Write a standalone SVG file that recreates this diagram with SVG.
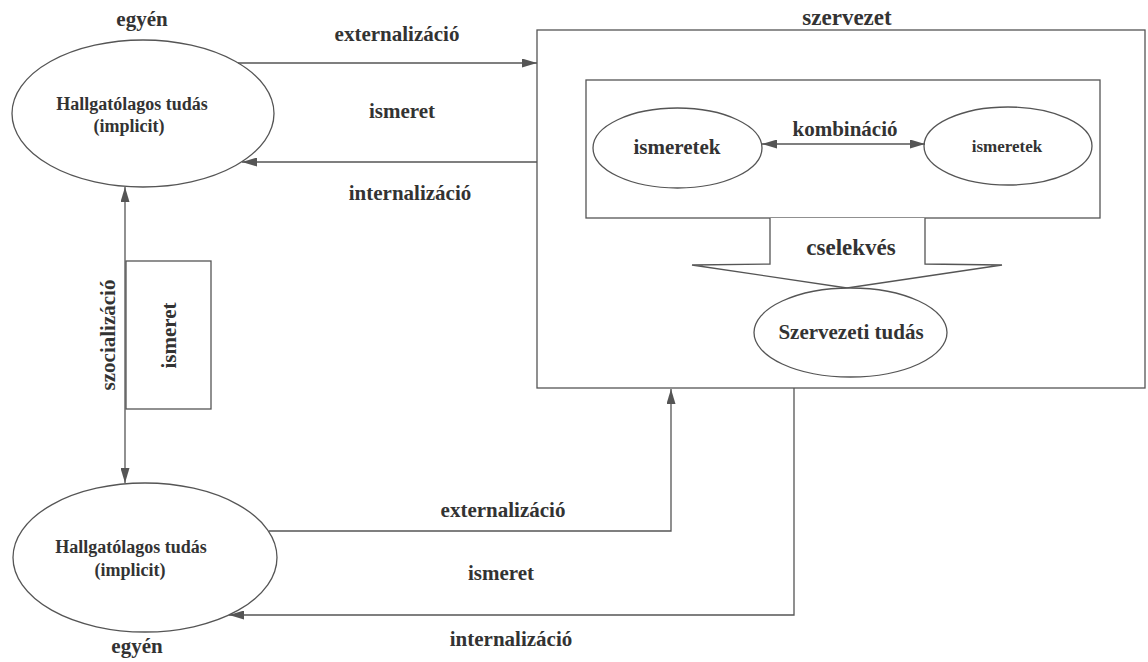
<svg xmlns="http://www.w3.org/2000/svg" width="1148" height="662" viewBox="0 0 1148 662">
<style>
.t{font-family:"Liberation Serif","DejaVu Serif","Times New Roman",serif;font-weight:bold;fill:#333;text-anchor:middle}
.s{fill:#fff;stroke:#555;stroke-width:1.3}
.c{fill:none;stroke:#555;stroke-width:1.3}
</style>
<defs>
<marker id="ah" viewBox="0 0 15 9" refX="15" refY="4.5" markerWidth="15" markerHeight="9" markerUnits="userSpaceOnUse" orient="auto-start-reverse">
<path d="M0,0 L15,4.5 L0,9 z" fill="#555"/>
</marker>
</defs>
<rect width="1148" height="662" fill="#fff"/>

<g id="szervezet">
<rect class="s" x="537" y="30" width="608" height="358"/>
<text class="t" font-family="Liberation Serif, serif" x="847" y="25" font-size="23">szervezet</text>
</g>
<g id="kombinacio-box">
<rect class="s" x="586" y="80" width="514" height="138"/>
</g>
<g id="ismeretek1">
<ellipse class="s" cx="677.5" cy="148" rx="84.5" ry="40"/>
<text class="t" font-family="Liberation Serif, serif" x="677" y="154" font-size="21">ismeretek</text>
</g>
<g id="ismeretek2">
<ellipse class="s" cx="1008" cy="146" rx="84" ry="39"/>
<text class="t" font-family="Liberation Serif, serif" x="1007" y="152" font-size="17">ismeretek</text>
</g>
<g id="cselekves">
<path class="s" d="M770,218 L770,264 L692,265 L847,288 L1002,265 L925,264 L925,218"/>
<text class="t" font-family="Liberation Serif, serif" x="851" y="255" font-size="23">cselekvés</text>
</g>
<g id="szervezeti-tudas">
<ellipse class="s" cx="850.5" cy="332.5" rx="96.5" ry="44.5"/>
<text class="t" font-family="Liberation Serif, serif" x="851" y="339" font-size="21">Szervezeti tudás</text>
</g>

<g id="egyen1">
<ellipse class="s" cx="143" cy="113.5" rx="131" ry="73.5"/>
<text class="t" font-family="Liberation Serif, serif" x="132" y="110" font-size="18">Hallgatólagos tudás</text>
<text class="t" font-family="Liberation Serif, serif" x="129" y="132" font-size="18">(implicit)</text>
<text class="t" font-family="Liberation Serif, serif" x="142" y="26" font-size="21">egyén</text>
</g>
<g id="egyen2">
<ellipse class="s" cx="145" cy="557.5" rx="132" ry="74.5"/>
<text class="t" font-family="Liberation Serif, serif" x="131" y="553" font-size="18">Hallgatólagos tudás</text>
<text class="t" font-family="Liberation Serif, serif" x="130" y="576" font-size="18">(implicit)</text>
<text class="t" font-family="Liberation Serif, serif" x="137" y="653" font-size="21">egyén</text>
</g>
<g id="ismeret-box">
<rect class="s" x="126" y="261" width="85" height="148"/>
<text class="t" font-family="Liberation Serif, serif" font-size="21" transform="translate(176,335.5) rotate(-90)" x="0" y="0">ismeret</text>
</g>

<g id="connectors">
<path class="c" d="M238,63 H537" marker-end="url(#ah)"/>
<path class="c" d="M537,162 H242" marker-end="url(#ah)"/>
<path class="c" d="M125,483 V187" marker-start="url(#ah)" marker-end="url(#ah)"/>
<path class="c" d="M269,531 H671 V389" marker-end="url(#ah)"/>
<path class="c" d="M794,388 V615 H229" marker-end="url(#ah)"/>
<path class="c" d="M762,144 H925" marker-start="url(#ah)" marker-end="url(#ah)"/>
<text class="t" font-family="Liberation Serif, serif" x="397" y="41" font-size="21">externalizáció</text>
<text class="t" font-family="Liberation Serif, serif" x="402" y="118" font-size="21">ismeret</text>
<text class="t" font-family="Liberation Serif, serif" x="410" y="200" font-size="21">internalizáció</text>
<text class="t" font-family="Liberation Serif, serif" x="845" y="136" font-size="21">kombináció</text>
<text class="t" font-family="Liberation Serif, serif" font-size="21" transform="translate(115,335) rotate(-90)" x="0" y="0">szocializáció</text>
<text class="t" font-family="Liberation Serif, serif" x="503" y="517" font-size="21">externalizáció</text>
<text class="t" font-family="Liberation Serif, serif" x="501" y="580" font-size="21">ismeret</text>
<text class="t" font-family="Liberation Serif, serif" x="511" y="646" font-size="21">internalizáció</text>
</g>
</svg>
